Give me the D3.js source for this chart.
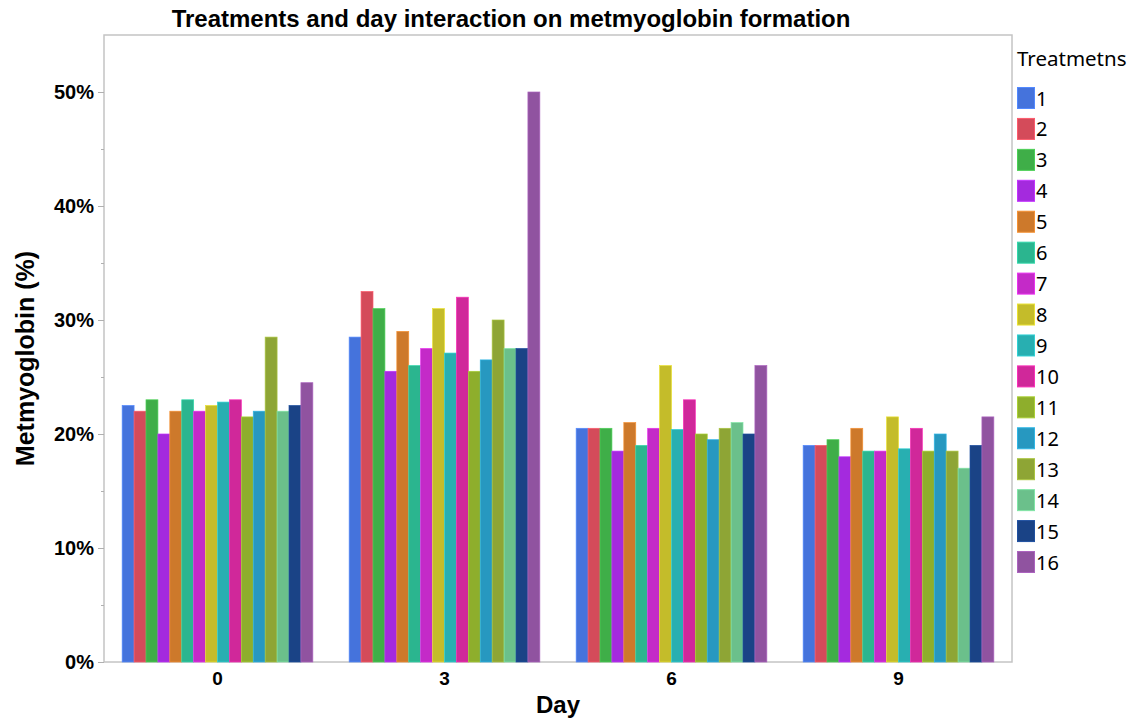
<!DOCTYPE html>
<html>
<head>
<meta charset="utf-8">
<script src="https://cdn.jsdelivr.net/npm/d3@7"></script>
<style>
  body { margin: 0; background: #fff; }
  svg { display: block; }
</style>
</head>
<body>
<svg id="chart"></svg>
<script>
// days on the x axis
const days = ["0", "3", "6", "9"];
// treatments (legend)
const treatments = ["1","2","3","4","5","6","7","8","9","10","11","12","13","14","15","16"];
const treatmentColors = ["#4573dc","#d44b5a","#3fae48","#a42ade","#cd792b","#2bb58f","#c42ac8","#c4bc2a",
  "#28afb1","#d0289a","#8eae2c","#2798c0","#8ea535","#6bc08b","#1a4386","#9053a0"];

// metmyoglobin % per treatment, one array per day
const day0 = [22.5, 22, 23, 20, 22, 23, 22, 22.5, 22.8, 23, 21.5, 22, 28.5, 22, 22.5, 24.5];
const day3 = [28.5, 32.5, 31, 25.5, 29, 26, 27.5, 31, 27.1, 32, 25.5, 26.5, 30, 27.5, 27.5, 50];
const day6 = [20.5, 20.5, 20.5, 18.5, 21, 19, 20.5, 26, 20.4, 23, 20, 19.5, 20.5, 21, 20, 26];
const day9 = [19, 19, 19.5, 18, 20.5, 18.5, 18.5, 21.5, 18.7, 20.5, 18.5, 20, 18.5, 17, 19, 21.5];
const yTicks = [0, 10, 20, 30, 40, 50];
const yMinorTicks = [5, 15, 25, 35, 45];

const seriesByDay = [day0, day3, day6, day9];

const data = [];
days.forEach((d, i) => {
  treatments.forEach((t, j) => {
    data.push({ day: d, treatment: t, value: seriesByDay[i][j] });
  });
});

const width = 1142, height = 723;
const margin = { top: 35, right: 130, bottom: 61, left: 104 };
const innerW = 1012 - margin.left;
const innerH = 662 - margin.top;

const svg = d3.select("#chart").attr("width", width).attr("height", height);
const g = svg.append("g").attr("transform", `translate(${margin.left},${margin.top})`);

const xScale = d3.scaleBand().domain(days).range([0, innerW]).paddingInner(0.16).paddingOuter(0.08);
const xInner = d3.scaleBand().domain(treatments).range([0, xScale.bandwidth()]);
const yScale = d3.scaleLinear().domain([0, 55]).range([innerH, 0]);
const colorScale = d3.scaleOrdinal().domain(treatments).range(treatmentColors);

// frame
g.append("rect")
  .attr("x", 0).attr("y", 0)
  .attr("width", innerW).attr("height", innerH)
  .attr("fill", "none").attr("stroke", "#c4c4c4").attr("stroke-width", 1.5);

// bars
g.selectAll(".bar")
  .data(data)
  .join("rect")
  .attr("class", "bar")
  .attr("x", d => xScale(d.day) + xInner(d.treatment))
  .attr("y", d => yScale(d.value))
  .attr("width", xInner.bandwidth())
  .attr("height", d => innerH - yScale(d.value))
  .attr("fill", d => colorScale(d.treatment))
  .attr("stroke", d => d3.color(colorScale(d.treatment)).brighter(0.5))
  .attr("stroke-width", 0.7);

// y axis
const yAxis = d3.axisLeft(yScale).tickValues(yTicks).tickSize(6).tickPadding(4).tickFormat(d => d + "%");
const yAxisG = g.append("g").call(yAxis);
yAxisG.select(".domain").remove();
yAxisG.selectAll(".tick line").attr("stroke", "#b0b0b0");
yAxisG.selectAll(".tick text")
  .attr("font-family", "'Liberation Sans', Arial, sans-serif")
  .attr("font-weight", "bold").attr("font-size", 20).attr("fill", "#000");

const yMinor = d3.axisLeft(yScale).tickValues(yMinorTicks).tickSize(3).tickFormat("");
const yMinorG = g.append("g").call(yMinor);
yMinorG.select(".domain").remove();
yMinorG.selectAll(".tick line").attr("stroke", "#b0b0b0");

// x axis
const xAxis = d3.axisBottom(xScale).tickSize(0).tickPadding(10);
const xAxisG = g.append("g").attr("transform", `translate(0,${innerH})`).call(xAxis);
xAxisG.select(".domain").remove();
xAxisG.selectAll(".tick text")
  .attr("font-family", "'Liberation Sans', Arial, sans-serif")
  .attr("font-weight", "bold").attr("font-size", 19).attr("fill", "#000");

// titles
svg.append("text")
  .attr("x", 511).attr("y", 27)
  .attr("text-anchor", "middle")
  .attr("font-family", "'Liberation Sans', Arial, sans-serif")
  .attr("font-weight", "bold").attr("font-size", 24)
  .text("Treatments and day interaction on metmyoglobin formation");

svg.append("text")
  .attr("x", margin.left + innerW / 2).attr("y", 713)
  .attr("text-anchor", "middle")
  .attr("font-family", "'Liberation Sans', Arial, sans-serif")
  .attr("font-weight", "bold").attr("font-size", 24)
  .text("Day");

svg.append("text")
  .attr("transform", `translate(34,${margin.top + innerH / 2 + 10}) rotate(-90)`)
  .attr("text-anchor", "middle")
  .attr("font-family", "'Liberation Sans', Arial, sans-serif")
  .attr("font-weight", "bold").attr("font-size", 25)
  .text("Metmyoglobin (%)");

// legend
const legend = svg.append("g").attr("transform", "translate(1017,0)");
legend.append("text")
  .attr("x", 0).attr("y", 66)
  .attr("font-family", "'Noto Sans', 'Open Sans', sans-serif")
  .attr("font-size", 20.5)
  .text("Treatmetns");

const legendY = d3.scalePoint().domain(treatments).range([98, 562]);
const items = legend.selectAll(".item")
  .data(treatments)
  .join("g")
  .attr("class", "item")
  .attr("transform", d => `translate(0,${legendY(d)})`);
items.append("rect")
  .attr("x", 0.5).attr("y", -10.5)
  .attr("width", 17).attr("height", 21)
  .attr("fill", d => colorScale(d))
  .attr("stroke", d => d3.color(colorScale(d)).brighter(0.5))
  .attr("stroke-width", 1);
items.append("text")
  .attr("x", 19).attr("y", 7.5)
  .attr("font-family", "'Noto Sans', 'Open Sans', sans-serif")
  .attr("font-size", 20)
  .text(d => d);
</script>
</body>
</html>
